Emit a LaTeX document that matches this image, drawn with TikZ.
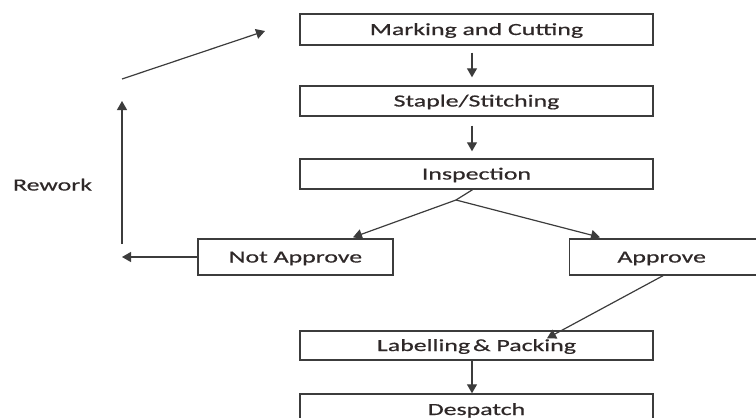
\documentclass[tikz,border=0pt]{standalone}
\usepackage{fontspec}
\setmainfont{Carlito}[FakeStretch=1.52,FakeBold=0.6]
\usetikzlibrary{arrows.meta}
\definecolor{ln}{HTML}{3C3C3C}
\definecolor{tx}{HTML}{2E2828}
\begin{document}
\begin{tikzpicture}[x=1pt,y=-1pt,
  box/.style={draw=ln, line width=1.4pt, rectangle, minimum height=30pt, inner sep=0pt, text height=11pt, text depth=0pt, font=\fontsize{17}{20}\selectfont, text=tx},
  arr/.style={draw=ln, line width=1.2pt, -{Triangle[length=9pt,width=10pt]}},
  ln/.style={draw=ln, line width=1.2pt}]
\useasboundingbox (0,0) rectangle (756,418);
\node[box, minimum width=353pt, minimum height=31pt] (mc) at (476.5,29.5) {Marking and Cutting};
\node[box, minimum width=353pt] (ss) at (476.5,101) {Staple/Stitching};
\node[box, minimum width=353pt] (insp) at (476.5,174) {Inspection};
\node[box, minimum width=195pt, minimum height=36pt] (na) at (295.5,257) {Not Approve};
\node[box, minimum width=210pt, minimum height=36pt, anchor=west] (ap) at (569,257) {\hspace*{-26pt}Approve};
\node[box, minimum width=353pt, minimum height=29pt] (lab) at (476.5,345.5) {Labelling\,\& Packing};
\node[box, minimum width=353pt, minimum height=31pt] (desp) at (476.5,409.5) {Despatch};
\node[text height=11pt, text depth=0pt, inner sep=0pt, font=\fontsize{17}{20}\selectfont, text=tx] (rw) at (52.5,185) {Rework};
\coordinate (apex) at (456,200);
\coordinate (left) at (122,257);
\coordinate (upA) at (122,244);
\coordinate (upB) at (122,101);
\coordinate (dgA) at (122,79);
\coordinate (dgB) at (265,31);
\draw[arr] ([xshift=-4.5pt,yshift=-7pt]mc.south) -- ([xshift=-4.5pt,yshift=8pt]ss.north);
\draw[arr] ([xshift=-4.5pt,yshift=-9pt]ss.south) -- ([xshift=-4.5pt,yshift=7pt]insp.north);
\draw[arr] (apex) -- ([xshift=57.5pt,yshift=1pt]na.north);
\draw[arr] (apex) -- ([xshift=31pt,yshift=1pt]ap.north west);
\draw[ln] ([xshift=-4pt]insp.south) -- (apex);
\draw[arr] ([xshift=94pt]ap.south west) -- ([xshift=70.5pt,yshift=-8pt]lab.north);
\draw[arr] ([xshift=-4.5pt]lab.south) -- ([xshift=-4.5pt]desp.north);
\draw[arr] (na.west) -- (left);
\draw[arr] (upA) -- (upB);
\draw[arr] (dgA) -- (dgB);
\end{tikzpicture}
\end{document}
